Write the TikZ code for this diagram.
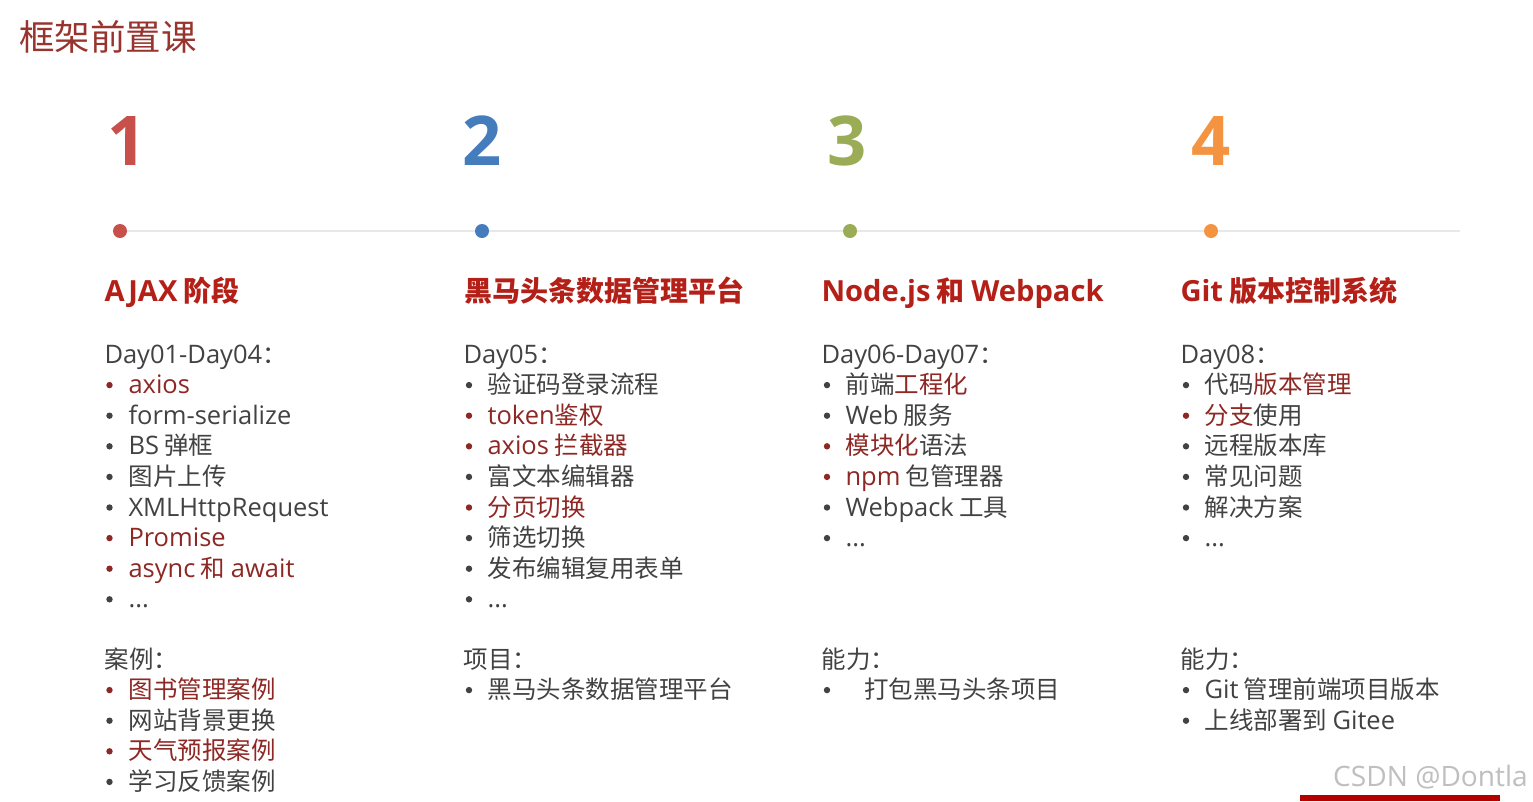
\documentclass[tikz,border=0pt]{standalone}
\usepackage{fontspec}
\setmainfont{Noto Sans CJK SC}
\newfontfamily\lat[Scale=1.04]{Open Sans}
\definecolor{txtgray}{RGB}{66,66,66}
\definecolor{hlred}{RGB}{142,40,36}
\definecolor{headred}{RGB}{180,32,24}
\definecolor{titlered}{RGB}{152,52,46}
\definecolor{cA}{RGB}{200,80,74}
\definecolor{cB}{RGB}{68,124,188}
\definecolor{cC}{RGB}{154,172,86}
\definecolor{cD}{RGB}{244,148,64}
\definecolor{tline}{RGB}{232,232,232}
\newcommand\lt[1]{{\lat #1}}
\newcommand\hl[1]{\textcolor{hlred}{#1}}
\newcommand\bitem[6]{%
  \fill[#5] (#2,#4-8.5) circle (3.2);
  \node[body,text=#5] (#1) at (#3,#4) {#6};}
\begin{document}
\begin{tikzpicture}[x=1pt,y=-1pt,
  body/.style={anchor=base west,inner sep=0pt,outer sep=0pt,font=\fontsize{24.5}{30}\selectfont,text=txtgray},
  head/.style={anchor=base west,inner sep=0pt,outer sep=0pt,font=\bfseries\fontsize{28}{34}\selectfont,text=headred},
  num/.style={anchor=base,inner sep=0pt,outer sep=0pt,font=\lat\bfseries\fontsize{66}{70}\selectfont},
  dotnode/.style={circle,inner sep=0pt,minimum size=14pt,draw=none},
  tl/.style={draw=tline,line width=2pt}]
\useasboundingbox (0,0) rectangle (1533,801);
\fill[white] (0,0) rectangle (1533,801);

% title
\node[anchor=base west,inner sep=0pt,font=\fontsize{35.5}{40}\selectfont,text=titlered] (title) at (19,50) {框架前置课};

% numbers
\node[num,text=cA] (n1) at (127,165) {1};
\node[num,text=cB] (n2) at (482.5,165) {2};
\node[num,text=cC] (n3) at (847.5,165) {3};
\node[num,text=cD] (n4) at (1211.5,165) {4};

% timeline
\node[dotnode,fill=cA] (d1) at (120,231) {};
\node[dotnode,fill=cB] (d2) at (482,231) {};
\node[dotnode,fill=cC] (d3) at (850,231) {};
\node[dotnode,fill=cD] (d4) at (1211,231) {};
\coordinate (le) at (1460,231);
\draw[tl] (d1) -- (d2);
\draw[tl] (d2) -- (d3);
\draw[tl] (d3) -- (d4);
\draw[tl] (d4) -- (le);

% headings
\node[head] (h1) at (104.5,301) {\lt{AJAX} 阶段};
\node[head] (h2) at (464,301) {黑马头条数据管理平台};
\node[head] (h3) at (821.5,301) {\lt{Node.js} 和 \lt{Webpack}};
\node[head] (h4) at (1180.5,301) {\lt{Git} 版本控制系统};

% ---------- column 1
\node[body] (c1t) at (104.5,363) {\lt{Day01-Day04}：};
\bitem{c1a}{109.5}{128.5}{393.6}{hlred}{\lt{axios}}
\bitem{c1b}{109.5}{128.5}{424.2}{txtgray}{\lt{form-serialize}}
\bitem{c1c}{109.5}{128.5}{454.8}{txtgray}{\lt{BS} 弹框}
\bitem{c1d}{109.5}{128.5}{485.4}{txtgray}{图片上传}
\bitem{c1e}{109.5}{128.5}{516}{txtgray}{\lt{XMLHttpRequest}}
\bitem{c1f}{109.5}{128.5}{546.6}{hlred}{\lt{Promise}}
\bitem{c1g}{109.5}{128.5}{577.2}{hlred}{\lt{async} 和 \lt{await}}
\bitem{c1h}{109.5}{128.5}{607.8}{txtgray}{\lt{...}}
\node[body] (c1u) at (104.5,668) {案例：};
\bitem{c1i}{109.5}{128.5}{698.6}{hlred}{图书管理案例}
\bitem{c1j}{109.5}{128.5}{729.2}{txtgray}{网站背景更换}
\bitem{c1k}{109.5}{128.5}{759.8}{hlred}{天气预报案例}
\bitem{c1l}{109.5}{128.5}{790.4}{txtgray}{学习反馈案例}

% ---------- column 2
\node[body] (c2t) at (463.5,363) {\lt{Day05}：};
\bitem{c2a}{469}{487.5}{393.6}{txtgray}{验证码登录流程}
\bitem{c2b}{469}{487.5}{424.2}{hlred}{\lt{token}鉴权}
\bitem{c2c}{469}{487.5}{454.8}{hlred}{\lt{axios} 拦截器}
\bitem{c2d}{469}{487.5}{485.4}{txtgray}{富文本编辑器}
\bitem{c2e}{469}{487.5}{516}{hlred}{分页切换}
\bitem{c2f}{469}{487.5}{546.6}{txtgray}{筛选切换}
\bitem{c2g}{469}{487.5}{577.2}{txtgray}{发布编辑复用表单}
\bitem{c2h}{469}{487.5}{607.8}{txtgray}{\lt{...}}
\node[body] (c2u) at (463.5,668) {项目：};
\bitem{c2i}{469}{487.5}{698.6}{txtgray}{黑马头条数据管理平台}

% ---------- column 3
\node[body] (c3t) at (821.5,363) {\lt{Day06-Day07}：};
\bitem{c3a}{827}{845.5}{393.6}{txtgray}{前端\hl{工程化}}
\bitem{c3b}{827}{845.5}{424.2}{txtgray}{\lt{Web} 服务}
\bitem{c3c}{827}{845.5}{454.8}{hlred}{模块化\textcolor{txtgray}{语法}}
\bitem{c3d}{827}{845.5}{485.4}{hlred}{\lt{npm} \textcolor{txtgray}{包管理器}}
\bitem{c3e}{827}{845.5}{516}{txtgray}{\lt{Webpack} 工具}
\bitem{c3f}{827}{845.5}{546.6}{txtgray}{\lt{...}}
\node[body] (c3u) at (821.5,668) {能力：};
\bitem{c3i}{827}{864}{698.6}{txtgray}{打包黑马头条项目}

% ---------- column 4
\node[body] (c4t) at (1180.5,363) {\lt{Day08}：};
\bitem{c4a}{1186}{1204.5}{393.6}{txtgray}{代码\hl{版本管理}}
\bitem{c4b}{1186}{1204.5}{424.2}{hlred}{分支\textcolor{txtgray}{使用}}
\bitem{c4c}{1186}{1204.5}{454.8}{txtgray}{远程版本库}
\bitem{c4d}{1186}{1204.5}{485.4}{txtgray}{常见问题}
\bitem{c4e}{1186}{1204.5}{516}{txtgray}{解决方案}
\bitem{c4f}{1186}{1204.5}{546.6}{txtgray}{\lt{...}}
\node[body] (c4u) at (1180.5,668) {能力：};
\bitem{c4i}{1186}{1204.5}{698.6}{txtgray}{\lt{Git} 管理前端项目版本}
\bitem{c4j}{1186}{1204.5}{729.2}{txtgray}{上线部署到 \lt{Gitee}}

% watermark
\node[anchor=base west,inner sep=0pt,font=\lat\fontsize{27}{30}\selectfont,text=black!25] (wm) at (1333,786) {CSDN @Dontla};
\fill[red!70!black] (1300,795) rectangle (1500,801);
\end{tikzpicture}
\end{document}
